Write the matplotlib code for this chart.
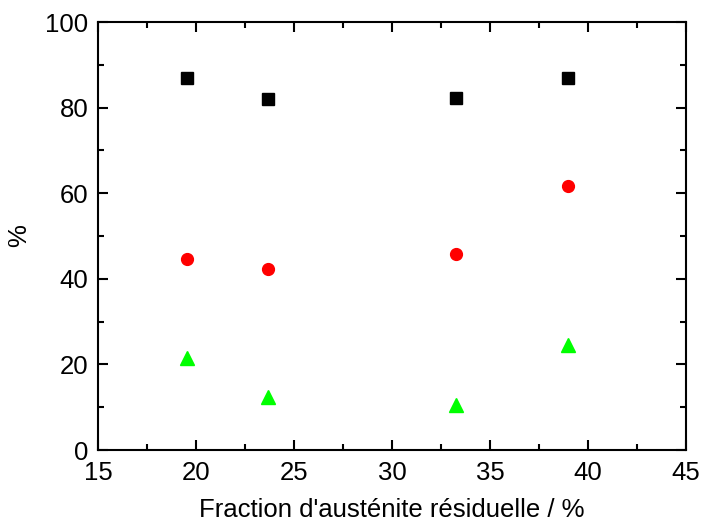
#!/usr/bin/env python3
"""Scatter of three fractions vs residual austenite fraction."""

import matplotlib
matplotlib.use('Agg')
import matplotlib.pyplot as plt
from matplotlib.ticker import MultipleLocator

austenite = [19.55, 23.65, 33.25, 39.0]
black_sq = [86.9, 81.9, 82.2, 86.9]
red_circ = [44.6, 42.2, 45.8, 61.6]
green_tri = [21.6, 12.5, 10.6, 24.6]

plt.rcParams['font.family'] = ['Liberation Sans', 'DejaVu Sans']

fig = plt.figure(figsize=(7.03, 5.23), dpi=100)
ax = fig.add_axes([98 / 703, 1 - 450 / 523, 588 / 703, 428 / 523])

ax.plot(austenite, black_sq, 's', color='black', markersize=8, linestyle='none')
ax.plot(austenite, red_circ, 'o', color='red', markersize=8.5, linestyle='none')
ax.plot(austenite, green_tri, '^', color='#00ff00', markersize=9.5, linestyle='none')

ax.set_xlim(15, 45)
ax.set_ylim(0, 100)
ax.xaxis.set_major_locator(MultipleLocator(5))
ax.xaxis.set_minor_locator(MultipleLocator(2.5))
ax.yaxis.set_major_locator(MultipleLocator(20))
ax.yaxis.set_minor_locator(MultipleLocator(10))
ax.tick_params(which='both', direction='in', top=True, right=True,
               width=1.5, labelsize=18.5)
ax.tick_params(which='major', length=7)
ax.tick_params(which='minor', length=4)
ax.tick_params(axis='x', pad=8)
ax.tick_params(axis='y', pad=7)
for spine in ax.spines.values():
    spine.set_linewidth(1.5)

ax.set_xlabel("Fraction d'austénite résiduelle / %", fontsize=18.5, labelpad=9)
ax.set_ylabel('%', fontsize=18.5, labelpad=10)

fig.savefig('out.png', dpi=100)
